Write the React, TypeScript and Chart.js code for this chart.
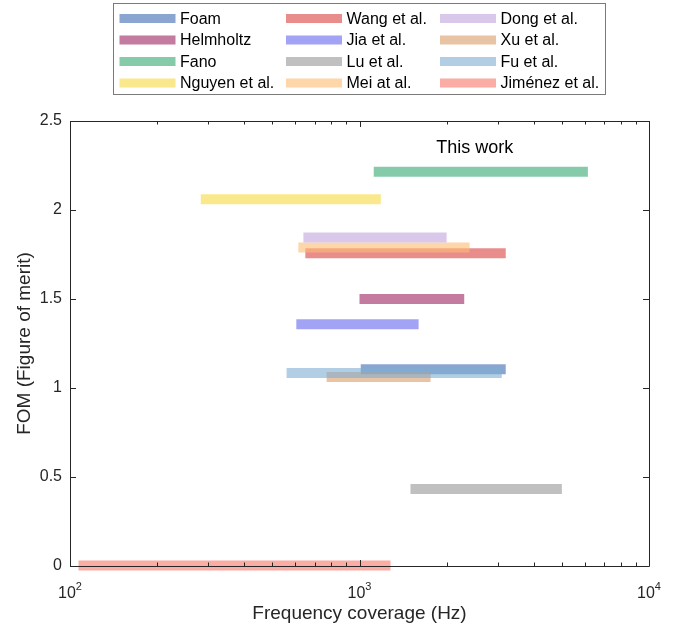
import React, { useEffect, useRef } from "react";
import { Chart, registerables } from "chart.js";

Chart.register(...registerables);

// ---- data ----
const names = [
  "Foam",
  "Helmholtz",
  "Fano",
  "Nguyen et al.",
  "Wang et al.",
  "Jia et al.",
  "Lu et al.",
  "Mei at al.",
  "Dong et al.",
  "Xu et al.",
  "Fu et al.",
  "Jiménez et al.",
];
const fom = [1.105, 1.5, 2.215, 2.06, 1.757, 1.358, 0.433, 1.79, 1.845, 1.062, 1.084, 0.003];
const freqStart = [1010, 1000, 1120, 283, 650, 605, 1500, 615, 640, 770, 560, 107];
const freqEnd = [3200, 2300, 6150, 1185, 3200, 1600, 5000, 2400, 2000, 1760, 3100, 1280];
const colors = [
  "rgba(60,105,177,0.6)",
  "rgba(157,35,97,0.6)",
  "rgba(52,168,113,0.6)",
  "rgba(247,217,63,0.6)",
  "rgba(217,63,63,0.6)",
  "rgba(102,102,238,0.6)",
  "rgba(150,150,150,0.6)",
  "rgba(252,187,113,0.6)",
  "rgba(193,163,220,0.6)",
  "rgba(217,157,103,0.6)",
  "rgba(127,173,210,0.6)",
  "rgba(247,117,105,0.6)",
];
const yTicks = [0, 0.5, 1, 1.5, 2, 2.5];
const yTickLabels = ["0", "0.5", "1", "1.5", "2", "2.5"];
const xMajorTicks = [100, 1000, 10000];
const xTickExponents = ["2", "3", "4"];
const xTitle = "Frequency coverage (Hz)";
const yTitle = "FOM (Figure of merit)";
const annotationText = "This work";
const annotationX = 2500;
const annotationY = 2.35;

const FONT = '"Liberation Sans", Arial, Helvetica, sans-serif';
const AXIS_COLOR = "#262626";

const axesPlugin = {
  id: "matlabAxes",
  afterDatasetsDraw(chart: any) {
    const { ctx, chartArea, scales } = chart;
    const xs = scales.x;
    const ys = scales.y;
    const { left, right, top, bottom } = chartArea;
    ctx.save();
    ctx.strokeStyle = AXIS_COLOR;
    ctx.lineWidth = 1;
    // box
    ctx.beginPath();
    ctx.rect(Math.round(left) + 0.5, Math.round(top) + 0.5, Math.round(right - left), Math.round(bottom - top));
    ctx.stroke();
    // ticks
    const major = 6;
    const minor = 3.5;
    ctx.beginPath();
    for (let d = 2; d <= 4; d++) {
      for (let m = 1; m <= 9; m++) {
        if (d === 4 && m > 1) break;
        const v = m * Math.pow(10, d);
        const px = Math.round(xs.getPixelForValue(v)) + 0.5;
        const len = m === 1 ? major : minor;
        ctx.moveTo(px, bottom);
        ctx.lineTo(px, bottom - len);
        ctx.moveTo(px, top);
        ctx.lineTo(px, top + len);
      }
    }
    for (const t of yTicks) {
      const py = Math.round(ys.getPixelForValue(t)) + 0.5;
      ctx.moveTo(left, py);
      ctx.lineTo(left + major, py);
      ctx.moveTo(right, py);
      ctx.lineTo(right - major, py);
    }
    ctx.stroke();

    // x tick labels with superscripts
    ctx.fillStyle = AXIS_COLOR;
    ctx.textBaseline = "alphabetic";
    xMajorTicks.forEach((v, i) => {
      const px = xs.getPixelForValue(v);
      ctx.font = `16px ${FONT}`;
      const wBase = ctx.measureText("10").width;
      ctx.font = `11px ${FONT}`;
      const wExp = ctx.measureText(xTickExponents[i]).width;
      const total = wBase + wExp;
      const x0 = px - total / 2;
      ctx.font = `16px ${FONT}`;
      ctx.textAlign = "left";
      ctx.fillText("10", x0, bottom + 32);
      ctx.font = `11px ${FONT}`;
      ctx.fillText(xTickExponents[i], x0 + wBase, bottom + 24);
    });

    // annotation
    ctx.fillStyle = "#000";
    ctx.font = `18px ${FONT}`;
    ctx.textAlign = "center";
    ctx.textBaseline = "middle";
    ctx.fillText(annotationText, xs.getPixelForValue(annotationX), ys.getPixelForValue(annotationY));
    ctx.restore();
  },
  afterDraw(chart: any) {
    const { ctx } = chart;
    ctx.save();
    // legend box
    ctx.fillStyle = "#fff";
    ctx.fillRect(113.5, 3.5, 492, 91);
    ctx.strokeStyle = "#7a7a7a";
    ctx.lineWidth = 1;
    ctx.strokeRect(113.5, 3.5, 492, 91);
    const colX = [119.5, 286, 440];
    const rowY = [18.5, 40, 61.5, 83];
    ctx.font = `16px ${FONT}`;
    ctx.textAlign = "left";
    ctx.textBaseline = "middle";
    names.forEach((n, i) => {
      const c = Math.floor(i / 4);
      const r = i % 4;
      const x = colX[c];
      const y = rowY[r];
      ctx.fillStyle = colors[i];
      ctx.fillRect(x, y - 4.5, 56, 9);
      ctx.fillStyle = "#000";
      ctx.fillText(n, x + 60.5, y + 1);
    });
    ctx.restore();
  },
};

export default function App() {
  const ref = useRef<HTMLCanvasElement | null>(null);
  useEffect(() => {
    document.body.style.margin = "0";
    const canvas = ref.current;
    if (!canvas) return;
    const datasets = names.map((n, i) => ({
      label: n,
      data: [
        { x: freqStart[i], y: fom[i] },
        { x: freqEnd[i], y: fom[i] },
      ],
      borderColor: colors[i],
      backgroundColor: colors[i],
      borderWidth: 10,
      borderCapStyle: "butt" as const,
      pointRadius: 0,
      pointHoverRadius: 0,
      tension: 0,
      fill: false,
      clip: false as any,
      order: names.length - i,
    }));
    const chart = new Chart(canvas, {
      type: "line",
      data: { datasets },
      options: {
        animation: false,
        responsive: false,
        devicePixelRatio: 1,
        events: [],
        layout: { padding: { top: 121, right: 36, left: 0, bottom: 0 } },
        plugins: { legend: { display: false }, tooltip: { enabled: false } },
        scales: {
          x: {
            type: "logarithmic",
            min: 100,
            max: 10000,
            grid: { display: false },
            border: { display: false },
            ticks: { display: false },
            afterFit: (s: any) => {
              s.height = 64;
            },
            title: {
              display: true,
              text: xTitle,
              color: AXIS_COLOR,
              font: { family: FONT, size: 19 },
              padding: { top: 0, bottom: 5 },
            },
          },
          y: {
            type: "linear",
            min: 0,
            max: 2.5,
            grid: { display: false },
            border: { display: false },
            afterBuildTicks: (s: any) => {
              s.ticks = yTicks.map((v) => ({ value: v }));
            },
            afterFit: (s: any) => {
              s.width = 70;
            },
            ticks: {
              color: AXIS_COLOR,
              font: { family: FONT, size: 16 },
              padding: 0,
              callback: (_v: any, idx: number) => yTickLabels[idx],
            },
            title: {
              display: true,
              text: yTitle,
              color: AXIS_COLOR,
              font: { family: FONT, size: 19 },
              padding: { top: 13, bottom: 0 },
            },
          },
        },
      },
      plugins: [axesPlugin],
    });
    return () => chart.destroy();
  }, []);
  return (
    <div style={{ width: 685, height: 630 }}>
      <canvas ref={ref} width={685} height={630} style={{ display: "block" }} />
    </div>
  );
}
